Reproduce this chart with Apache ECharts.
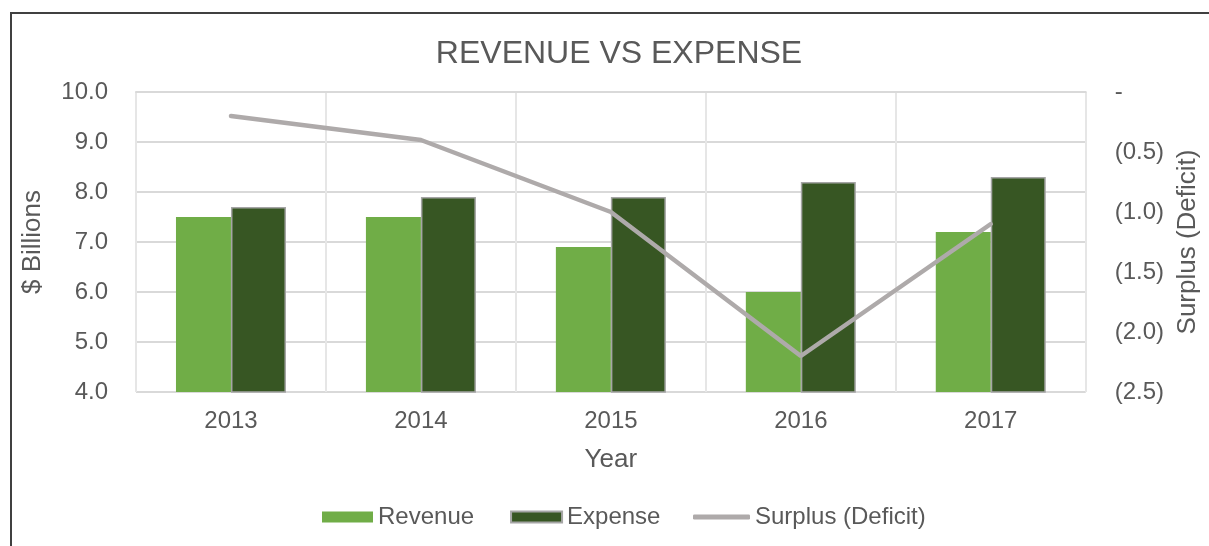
<!DOCTYPE html>
<html>
<head>
<meta charset="utf-8">
<script src="https://cdn.jsdelivr.net/npm/echarts@6/dist/echarts.min.js"></script>
<style>
  html, body { margin: 0; padding: 0; background: #fff; }
  #frame { position: absolute; left: 10px; top: 12px; width: 1260px; height: 600px; border: 2px solid #404040; box-sizing: border-box; }
  #chart { position: absolute; left: 0; top: 0; width: 1209px; height: 546px; }
</style>
</head>
<body>
<div id="frame"></div>
<div id="chart"></div>
<script>
var years = ['2013', '2014', '2015', '2016', '2017'];
var revenue = [7.5, 7.5, 6.9, 6.0, 7.2];
var expense = [7.7, 7.9, 7.9, 8.2, 8.3];
var surplus = [-0.2, -0.4, -1.0, -2.2, -1.1];

var chart = echarts.init(document.getElementById('chart'));
var textColor = '#595959';
var font = 'Liberation Sans, Arial, sans-serif';

chart.setOption({
    backgroundColor: 'transparent',
    textStyle: { fontFamily: font },
    title: {
        text: 'REVENUE VS EXPENSE',
        left: 614,
        textAlign: 'center',
        top: 33,
        textStyle: { color: textColor, fontSize: 32, fontWeight: 'normal', fontFamily: font }
    },
    legend: [
        {
            // bar swatches
            left: 317,
            top: 500,
            itemGap: 36,
            itemWidth: 51,
            itemHeight: 11,
            textStyle: { color: textColor, fontSize: 24, fontFamily: font },
            data: [
                { name: 'Revenue', icon: 'rect' },
                { name: 'Expense', icon: 'rect' }
            ]
        },
        {
            // line swatch
            left: 688,
            top: 500,
            itemWidth: 57,
            itemHeight: 5,
            textStyle: { color: textColor, fontSize: 24, fontFamily: font },
            data: [{ name: 'Surplus (Deficit)', icon: 'roundRect' }]
        }
    ],
    grid: { left: 136, right: 123, top: 92, bottom: 154, containLabel: false },
    xAxis: {
        type: 'category',
        data: years,
        name: 'Year',
        nameLocation: 'middle',
        nameGap: 55,
        nameTextStyle: { color: textColor, fontSize: 26 },
        axisLine: { show: true, lineStyle: { color: '#d9d9d9', width: 2 } },
        axisTick: { show: false },
        axisLabel: { color: textColor, fontSize: 24, margin: 17 },
        splitLine: { show: true, lineStyle: { color: '#e6e6e6', width: 2 } }
    },
    yAxis: [
        {
            type: 'value',
            min: 4,
            max: 10,
            interval: 1,
            name: '$ Billions',
            nameLocation: 'middle',
            nameGap: 90,
            nameTextStyle: { color: textColor, fontSize: 26 },
            axisLine: { show: false },
            axisTick: { show: false },
            axisLabel: { color: textColor, fontSize: 24, margin: 28, formatter: function (v) { return v.toFixed(1); } },
            splitLine: { lineStyle: { color: '#d9d9d9', width: 2 } }
        },
        {
            type: 'value',
            min: -2.5,
            max: 0,
            interval: 0.5,
            name: 'Surplus (Deficit)',
            nameLocation: 'middle',
            nameGap: 89,
            nameRotate: 90,
            nameTextStyle: { color: textColor, fontSize: 26 },
            axisLine: { show: false },
            axisTick: { show: false },
            splitLine: { show: false },
            axisLabel: {
                color: textColor, fontSize: 24, margin: 29,
                formatter: function (v) { return v === 0 ? '-' : '(' + Math.abs(v).toFixed(1) + ')'; }
            }
        }
    ],
    series: [
        {
            name: 'Revenue',
            type: 'bar',
            data: revenue,
            barWidth: 55,
            barGap: '0%',
            itemStyle: { color: '#70ad47' }
        },
        {
            name: 'Expense',
            type: 'bar',
            data: expense,
            barWidth: 55,
            itemStyle: { color: '#375623', borderColor: '#a5a5a5', borderWidth: 1.5 }
        },
        {
            name: 'Surplus (Deficit)',
            type: 'line',
            yAxisIndex: 1,
            data: surplus,
            symbol: 'none',
            lineStyle: { color: '#aeaaaa', width: 4.5, cap: 'round' },
            itemStyle: { color: '#aeaaaa' }
        }
    ]
});
</script>
</body>
</html>
